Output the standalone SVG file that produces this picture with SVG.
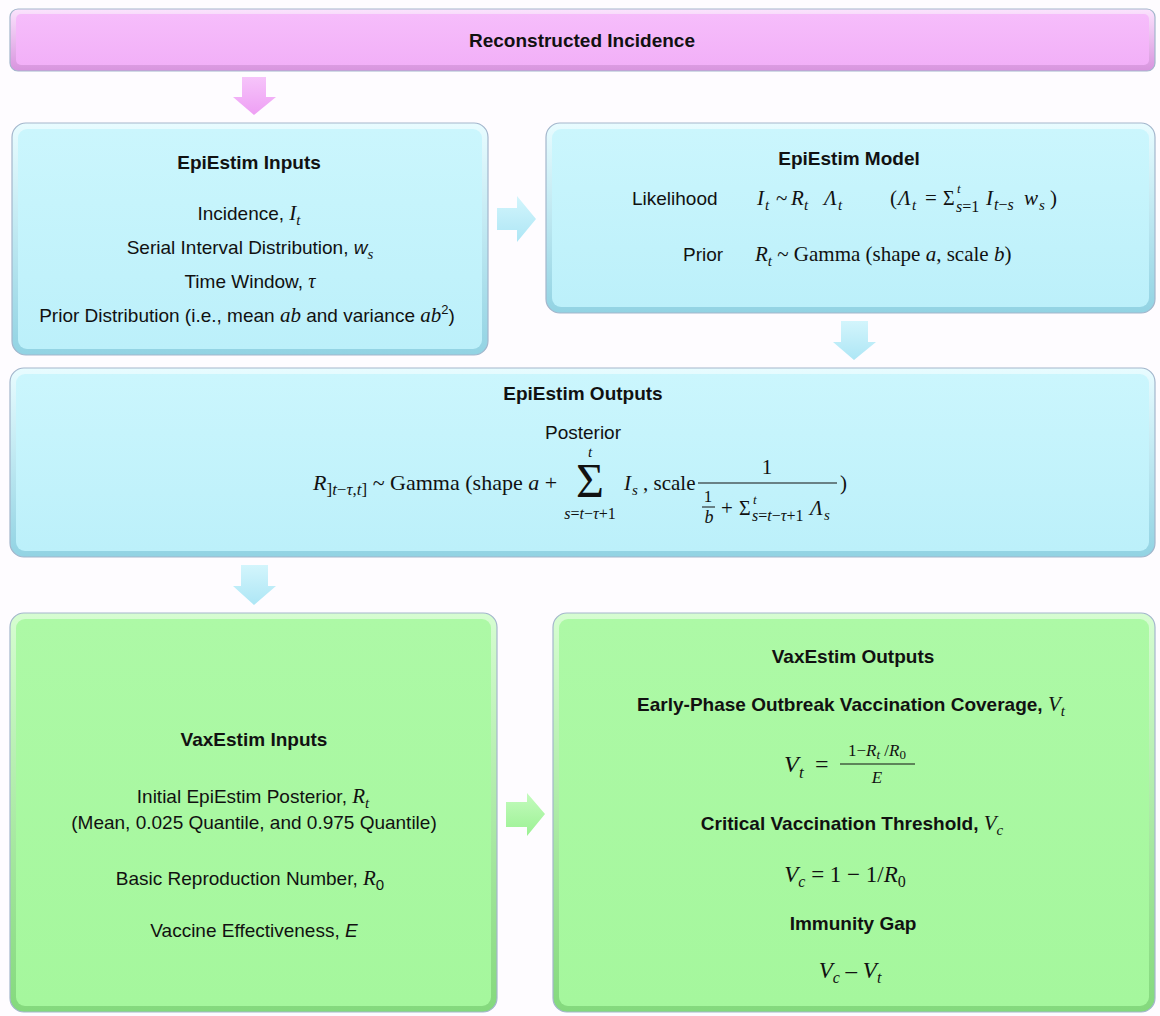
<svg xmlns="http://www.w3.org/2000/svg" width="1160" height="1016" viewBox="0 0 1160 1016">
<style>
.t{font-family:"Liberation Sans",Arial,sans-serif;font-size:19px;fill:#111}
.b{font-weight:bold}
.m{font-family:"Liberation Serif","DejaVu Serif",serif;font-style:italic;font-size:21px;fill:#111;font-weight:normal}
.u{font-family:"Liberation Serif","DejaVu Serif",serif;font-style:normal;font-size:21px;fill:#111;font-weight:normal}
.s{font-size:15px}
.f12{font-size:12px}
.f13{font-size:13px}
.f15{font-size:15px}
.f16{font-size:16px}
.f17{font-size:17px}
.f18{font-size:18px}
.f19{font-size:19px}
.f20{font-size:20px}
.f22{font-size:22px}
.f23{font-size:23px}
.f24{font-size:24px}
.f48{font-size:48px}
.edge{stroke:#a3b6cc;stroke-width:1.2}
</style>
<defs>
<linearGradient id="pinkO" x1="0" y1="0" x2="0" y2="1"><stop offset="0" stop-color="#fbe3fd"/><stop offset="1" stop-color="#d894de"/></linearGradient>
<linearGradient id="pinkI" x1="0" y1="0" x2="0" y2="1"><stop offset="0" stop-color="#f6bdfb"/><stop offset="1" stop-color="#f2b0f8"/></linearGradient>
<linearGradient id="cyanO" x1="0" y1="0" x2="0" y2="1"><stop offset="0" stop-color="#e8fcff"/><stop offset="1" stop-color="#92d3e3"/></linearGradient>
<linearGradient id="cyanI" x1="0" y1="0" x2="0" y2="1"><stop offset="0" stop-color="#cbf6fd"/><stop offset="1" stop-color="#bcf0fa"/></linearGradient>
<linearGradient id="greenO" x1="0" y1="0" x2="0" y2="1"><stop offset="0" stop-color="#d6fdd1"/><stop offset="1" stop-color="#84d97d"/></linearGradient>
<linearGradient id="greenI" x1="0" y1="0" x2="0" y2="1"><stop offset="0" stop-color="#adf9a6"/><stop offset="1" stop-color="#a5f79d"/></linearGradient>
<linearGradient id="pinkA" x1="0" y1="0" x2="0" y2="1"><stop offset="0" stop-color="#f6c4fa"/><stop offset="1" stop-color="#ee9ff4"/></linearGradient>
<linearGradient id="cyanA" x1="0" y1="0" x2="0" y2="1"><stop offset="0" stop-color="#d3f5fc"/><stop offset="1" stop-color="#ade6f5"/></linearGradient>
<linearGradient id="greenA" x1="0" y1="0" x2="0" y2="1"><stop offset="0" stop-color="#c4fbbe"/><stop offset="1" stop-color="#9bf193"/></linearGradient>
</defs>
<rect x="0" y="0" width="1160" height="1016" fill="#fefcff"/>

<g id="connectors">
<polygon points="242,77 266,77 266,97 276,97 254,115 233,97 242,97" fill="url(#pinkA)"/>
<polygon points="497,208 517,208 517,196 536,219 517,242 517,230 497,230" fill="url(#cyanA)"/>
<polygon points="841,321 868,321 868,342 876,342 854,360 833,342 841,342" fill="url(#cyanA)"/>
<polygon points="241,565 268,565 268,586 276,586 254,605 233,586 241,586" fill="url(#cyanA)"/>
<polygon points="506,802 527,802 527,793 545,814 527,836 527,827 506,827" fill="url(#greenA)"/>
</g>

<g id="reconstructed-incidence">
<rect x="10" y="9" width="1145" height="62" rx="8" fill="url(#pinkO)" class="edge"/>
<rect x="16" y="14" width="1133" height="51" rx="5" fill="url(#pinkI)"/>
<text x="582" y="47" text-anchor="middle" class="t b">Reconstructed Incidence</text>
</g>

<g id="epiestim-inputs">
<rect x="12" y="123" width="476" height="232" rx="14" fill="url(#cyanO)" class="edge"/>
<rect x="18" y="129" width="464" height="220" rx="9" fill="url(#cyanI)"/>
<text x="249" y="169" text-anchor="middle" class="t b">EpiEstim Inputs</text>
<text x="249" y="220" text-anchor="middle" class="t">Incidence, <tspan class="m">I</tspan><tspan class="m s" dy="5">t</tspan></text>
<text x="250" y="254" text-anchor="middle" class="t">Serial Interval Distribution, <tspan font-style="italic">w</tspan><tspan class="m s" dy="5">s</tspan></text>
<text x="250" y="288" text-anchor="middle" class="t">Time Window, <tspan class="m f20">τ</tspan></text>
<text x="247" y="322" text-anchor="middle" class="t">Prior Distribution (i.e., mean <tspan class="m">ab</tspan> and variance <tspan class="m">ab</tspan><tspan font-size="13" dy="-8">2</tspan><tspan dy="8">)</tspan></text>
</g>

<g id="epiestim-model">
<rect x="546" y="123" width="609" height="190" rx="14" fill="url(#cyanO)" class="edge"/>
<rect x="552" y="129" width="597" height="178" rx="9" fill="url(#cyanI)"/>
<text x="849" y="165" text-anchor="middle" class="t b">EpiEstim Model</text>
<text x="632" y="205" class="t">Likelihood</text>
<text x="757" y="205" class="m">I</text><text x="765" y="210" class="m s">t</text>
<text x="776" y="205" class="u">~</text>
<text x="791" y="205" class="m">R</text><text x="804" y="210" class="m s">t</text>
<text x="824" y="205" class="m">Λ</text><text x="838" y="210" class="m s">t</text>
<text x="890" y="205" class="u">(</text>
<text x="898" y="205" class="m">Λ</text><text x="912" y="210" class="m s">t</text>
<text x="925" y="205" class="u">=</text>
<text x="943" y="205" class="u f20">Σ</text>
<text x="957" y="193" class="m f13">t</text>
<text x="956" y="212"><tspan class="m f16">s</tspan><tspan class="u f16">=1</tspan></text>
<text x="986" y="205" class="m">I</text>
<text x="994" y="210"><tspan class="m f16">t</tspan><tspan class="u f16">−</tspan><tspan class="m f16">s</tspan></text>
<text x="1024" y="205" class="m">w</text><text x="1039" y="210" class="m s">s</text>
<text x="1050" y="205" class="u">)</text>
<text x="683" y="261" class="t">Prior</text>
<text x="755" y="261"><tspan class="m">R</tspan><tspan class="m s" dy="5">t</tspan><tspan class="u" dy="-5"> ~ Gamma (shape </tspan><tspan class="m">a</tspan><tspan class="u">, scale </tspan><tspan class="m">b</tspan><tspan class="u">)</tspan></text>
</g>

<g id="epiestim-outputs">
<rect x="10" y="368" width="1145" height="189" rx="14" fill="url(#cyanO)" class="edge"/>
<rect x="16" y="374" width="1133" height="177" rx="9" fill="url(#cyanI)"/>
<text x="583" y="400" text-anchor="middle" class="t b">EpiEstim Outputs</text>
<text x="583" y="439" text-anchor="middle" class="t">Posterior</text>
<text x="313" y="490"><tspan class="m f22">R</tspan><tspan class="u f17" dy="5">]</tspan><tspan class="m f17">t</tspan><tspan class="u f17">−</tspan><tspan class="m f17">τ</tspan><tspan class="u f17">,</tspan><tspan class="m f17">t</tspan><tspan class="u f17">]</tspan><tspan class="u f22" dy="-5"> ~ Gamma (shape </tspan><tspan class="m f22">a</tspan><tspan class="u f22"> +</tspan></text>
<text x="590" y="497" text-anchor="middle" class="u f48">Σ</text>
<text x="590" y="457" text-anchor="middle" class="m f15">t</text>
<text x="590" y="519" text-anchor="middle"><tspan class="m f16">s</tspan><tspan class="u f16">=</tspan><tspan class="m f16">t</tspan><tspan class="u f16">−</tspan><tspan class="m f16">τ</tspan><tspan class="u f16">+1</tspan></text>
<text x="624" y="490" class="m">I</text><text x="632" y="495" class="m s">s</text>
<text x="643" y="490" class="u">, scale</text>
<text x="767" y="474" text-anchor="middle" class="u">1</text>
<line x1="698" y1="483" x2="837" y2="483" stroke="#111" stroke-width="1.2"/>
<text x="708" y="502" text-anchor="middle" class="u f17">1</text>
<line x1="702" y1="507" x2="715" y2="507" stroke="#111" stroke-width="1"/>
<text x="709" y="523" text-anchor="middle" class="m f18">b</text>
<text x="721" y="515" class="u">+</text>
<text x="739" y="515" class="u f20">Σ</text>
<text x="753" y="504" class="m f13">t</text>
<text x="752" y="521"><tspan class="m f16">s</tspan><tspan class="u f16">=</tspan><tspan class="m f16">t</tspan><tspan class="u f16">−</tspan><tspan class="m f16">τ</tspan><tspan class="u f16">+1</tspan></text>
<text x="810" y="515" class="m">Λ</text><text x="824" y="520" class="m s">s</text>
<text x="840" y="490" class="u">)</text>
</g>

<g id="vaxestim-inputs">
<rect x="10" y="613" width="487" height="399" rx="14" fill="url(#greenO)" class="edge"/>
<rect x="16" y="619" width="475" height="387" rx="9" fill="url(#greenI)"/>
<text x="254" y="746" text-anchor="middle" class="t b">VaxEstim Inputs</text>
<text x="253" y="803" text-anchor="middle" class="t">Initial EpiEstim Posterior, <tspan class="m">R</tspan><tspan class="m s" dy="5">t</tspan></text>
<text x="254" y="829" text-anchor="middle" class="t">(Mean, 0.025 Quantile, and 0.975 Quantile)</text>
<text x="250" y="885" text-anchor="middle" class="t">Basic Reproduction Number, <tspan class="m">R</tspan><tspan font-size="15" dy="5">0</tspan></text>
<text x="254" y="937" text-anchor="middle" class="t">Vaccine Effectiveness, <tspan font-style="italic">E</tspan></text>
</g>

<g id="vaxestim-outputs">
<rect x="553" y="613" width="602" height="399" rx="14" fill="url(#greenO)" class="edge"/>
<rect x="559" y="619" width="590" height="387" rx="9" fill="url(#greenI)"/>
<text x="853" y="663" text-anchor="middle" class="t b">VaxEstim Outputs</text>
<text x="851" y="711" text-anchor="middle" class="t b">Early-Phase Outbreak Vaccination Coverage, <tspan class="m">V</tspan><tspan class="m s" dy="5">t</tspan></text>
<text x="784" y="772" class="m f24">V</text><text x="799" y="778" class="m f17">t</text>
<text x="815" y="772" class="u f24">=</text>
<line x1="840" y1="764" x2="915" y2="764" stroke="#111" stroke-width="1.1"/>
<text x="877" y="756" text-anchor="middle"><tspan class="u f17">1−</tspan><tspan class="m f17">R</tspan><tspan class="m f13" dy="3">t</tspan><tspan class="u f17" dy="-3"> /</tspan><tspan class="m f17">R</tspan><tspan class="u f13" dy="3">0</tspan></text>
<text x="877" y="783" text-anchor="middle" class="m f17">E</text>
<text x="852" y="830" text-anchor="middle" class="t b">Critical Vaccination Threshold, <tspan class="m">V</tspan><tspan class="m s" dy="5">c</tspan></text>
<text x="845" y="882" text-anchor="middle"><tspan class="m f23">V</tspan><tspan class="m f16" dy="5">c</tspan><tspan class="u f23" dy="-5">  = 1 − 1/</tspan><tspan class="m f23">R</tspan><tspan class="u f16" dy="5">0</tspan></text>
<text x="853" y="930" text-anchor="middle" class="t b">Immunity Gap</text>
<text x="850" y="978" text-anchor="middle"><tspan class="m f23">V</tspan><tspan class="m f16" dy="5">c</tspan><tspan class="u f23" dy="-5"> – </tspan><tspan class="m f23">V</tspan><tspan class="m f16" dy="5">t</tspan></text>
</g>
</svg>
